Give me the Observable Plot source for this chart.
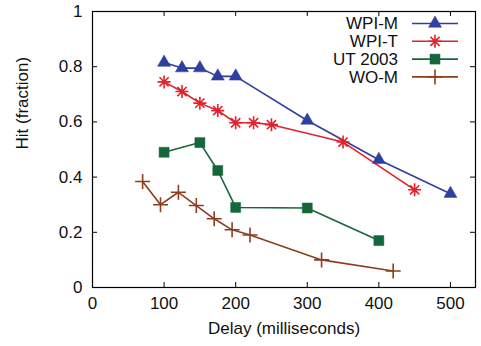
<!DOCTYPE html>
<html>
<head>
<meta charset="utf-8">
<script src="https://cdn.jsdelivr.net/npm/d3@7"></script>
<script src="https://cdn.jsdelivr.net/npm/@observablehq/plot@0.6"></script>
<style>
  html, body { margin: 0; padding: 0; background: #fff; }
  #chart { position: relative; width: 481px; height: 346px; }
</style>
</head>
<body>
<div id="chart"></div>
<script>
// ---- data ----
const seriesNames = ["WPI-M", "WPI-T", "UT 2003", "WO-M"];
const seriesColors = ["#2f3f9f", "#e3202b", "#15673a", "#8c3e1e"];

const wpiM_x = [100, 125, 150, 175, 200, 300, 400, 500];
const wpiM_y = [0.815, 0.795, 0.795, 0.765, 0.765, 0.605, 0.463, 0.34];

const wpiT_x = [100, 125, 150, 175, 200, 225, 250, 350, 450];
const wpiT_y = [0.745, 0.71, 0.668, 0.641, 0.597, 0.597, 0.59, 0.527, 0.354];

const ut_x = [100, 150, 175, 200, 300, 400];
const ut_y = [0.49, 0.525, 0.424, 0.29, 0.288, 0.17];

const woM_x = [70, 95, 120, 145, 170, 195, 220, 320, 420];
const woM_y = [0.384, 0.30, 0.345, 0.297, 0.249, 0.209, 0.19, 0.10, 0.06];

const xTicks = [0, 100, 200, 300, 400, 500];
const yTicks = [0, 0.2, 0.4, 0.6, 0.8, 1];
const xLabel = "Delay (milliseconds)";
const yLabel = "Hit (fraction)";

// ---- table ----
const xs = [wpiM_x, wpiT_x, ut_x, woM_x];
const ys = [wpiM_y, wpiT_y, ut_y, woM_y];
const data = [];
seriesNames.forEach((s, i) => xs[i].forEach((x, j) => data.push({series: s, x, y: ys[i][j]})));

// ---- symbols ----
const rad = size => Math.sqrt(size / Math.PI);
const starSym = {draw(ctx, size) { const r = rad(size), d = r * 0.7071;
  ctx.moveTo(-r, 0); ctx.lineTo(r, 0); ctx.moveTo(0, -r); ctx.lineTo(0, r);
  ctx.moveTo(-d, -d); ctx.lineTo(d, d); ctx.moveTo(-d, d); ctx.lineTo(d, -d); }};
const plusSym = {draw(ctx, size) { const r = rad(size);
  ctx.moveTo(-r, 0); ctx.lineTo(r, 0); ctx.moveTo(0, -r); ctx.lineTo(0, r); }};
const squareSym = {draw(ctx, size) { const r = rad(size); ctx.rect(-r, -r, 2 * r, 2 * r); }};
const triSym = {draw(ctx, size) { const r = rad(size);
  const h = r * 1.732;
  ctx.moveTo(0, -h * 2 / 3); ctx.lineTo(r, h / 3); ctx.lineTo(-r, h / 3); ctx.closePath(); }};
const symDefs = [
  {sym: triSym, r: 6.5, filled: true},
  {sym: starSym, r: 6.5, filled: false},
  {sym: squareSym, r: 5, filled: true},
  {sym: plusSym, r: 7.5, filled: false}
];

const W = 481, H = 346, mL = 92, mR = 6, mT = 11, mB = 59;
const innerW = W - mL - mR, innerH = H - mT - mB, tk = 5;
const font = "'Liberation Sans', Arial, Helvetica, sans-serif";

const marks = [
  Plot.tickX(xTicks, {x: d => d, insetTop: innerH - tk, stroke: "black"}),
  Plot.tickX(xTicks, {x: d => d, insetBottom: innerH - tk, stroke: "black"}),
  Plot.tickY(yTicks, {y: d => d, insetRight: innerW - tk, stroke: "black"}),
  Plot.tickY(yTicks, {y: d => d, insetLeft: innerW - tk, stroke: "black"}),
  Plot.axisX(xTicks, {tickSize: 0, tickPadding: 9, fontSize: 17, label: null}),
  Plot.axisY(yTicks, {tickSize: 0, tickPadding: 10, fontSize: 17, label: null, tickFormat: d => String(d)}),
  Plot.text([xLabel], {frameAnchor: "bottom", dy: 46, fontSize: 17, text: d => d}),
  Plot.text([yLabel], {frameAnchor: "left", dx: -70, rotate: -90, fontSize: 17, text: d => d}),
  Plot.line(data, {x: "x", y: "y", z: "series", stroke: "series", strokeWidth: 1.6})
];
seriesNames.forEach((s, i) => {
  const sd = symDefs[i];
  marks.push(Plot.dot(data.filter(d => d.series === s), {
    x: "x", y: "y", symbol: () => sd.sym, r: sd.r,
    fill: sd.filled ? seriesColors[i] : "none",
    stroke: seriesColors[i], strokeWidth: sd.filled ? 0.5 : 1.6
  }));
});
marks.push(Plot.frame({stroke: "black", strokeWidth: 1.2}));

const svg = Plot.plot({
  width: W, height: H,
  marginLeft: mL, marginRight: mR, marginTop: mT, marginBottom: mB,
  style: {fontFamily: font, fontSize: "17px", color: "#111", background: "white"},
  x: {domain: [0, 535]},
  y: {domain: [0, 1]},
  color: {domain: seriesNames, range: seriesColors},
  symbol: {type: "identity"},
  marks
});

// ---- legend (inside top-right) ----
const g = d3.select(svg).append("g").attr("font-family", font).attr("font-size", 17);
seriesNames.forEach((s, i) => {
  const cy = 23.5 + i * 17.8;
  g.append("text").attr("x", 398).attr("y", cy).attr("dy", "0.35em")
    .attr("text-anchor", "end").attr("fill", "#111").text(s);
  g.append("line").attr("x1", 412).attr("x2", 458).attr("y1", cy).attr("y2", cy)
    .attr("stroke", seriesColors[i]).attr("stroke-width", 1.6);
  const sd = symDefs[i];
  g.append("path").attr("transform", `translate(435,${cy})`)
    .attr("d", d3.symbol().type(sd.sym).size(Math.PI * sd.r * sd.r)())
    .attr("fill", sd.filled ? seriesColors[i] : "none")
    .attr("stroke", seriesColors[i]).attr("stroke-width", sd.filled ? 0.5 : 1.6);
});

document.getElementById("chart").appendChild(svg);
</script>
</body>
</html>
